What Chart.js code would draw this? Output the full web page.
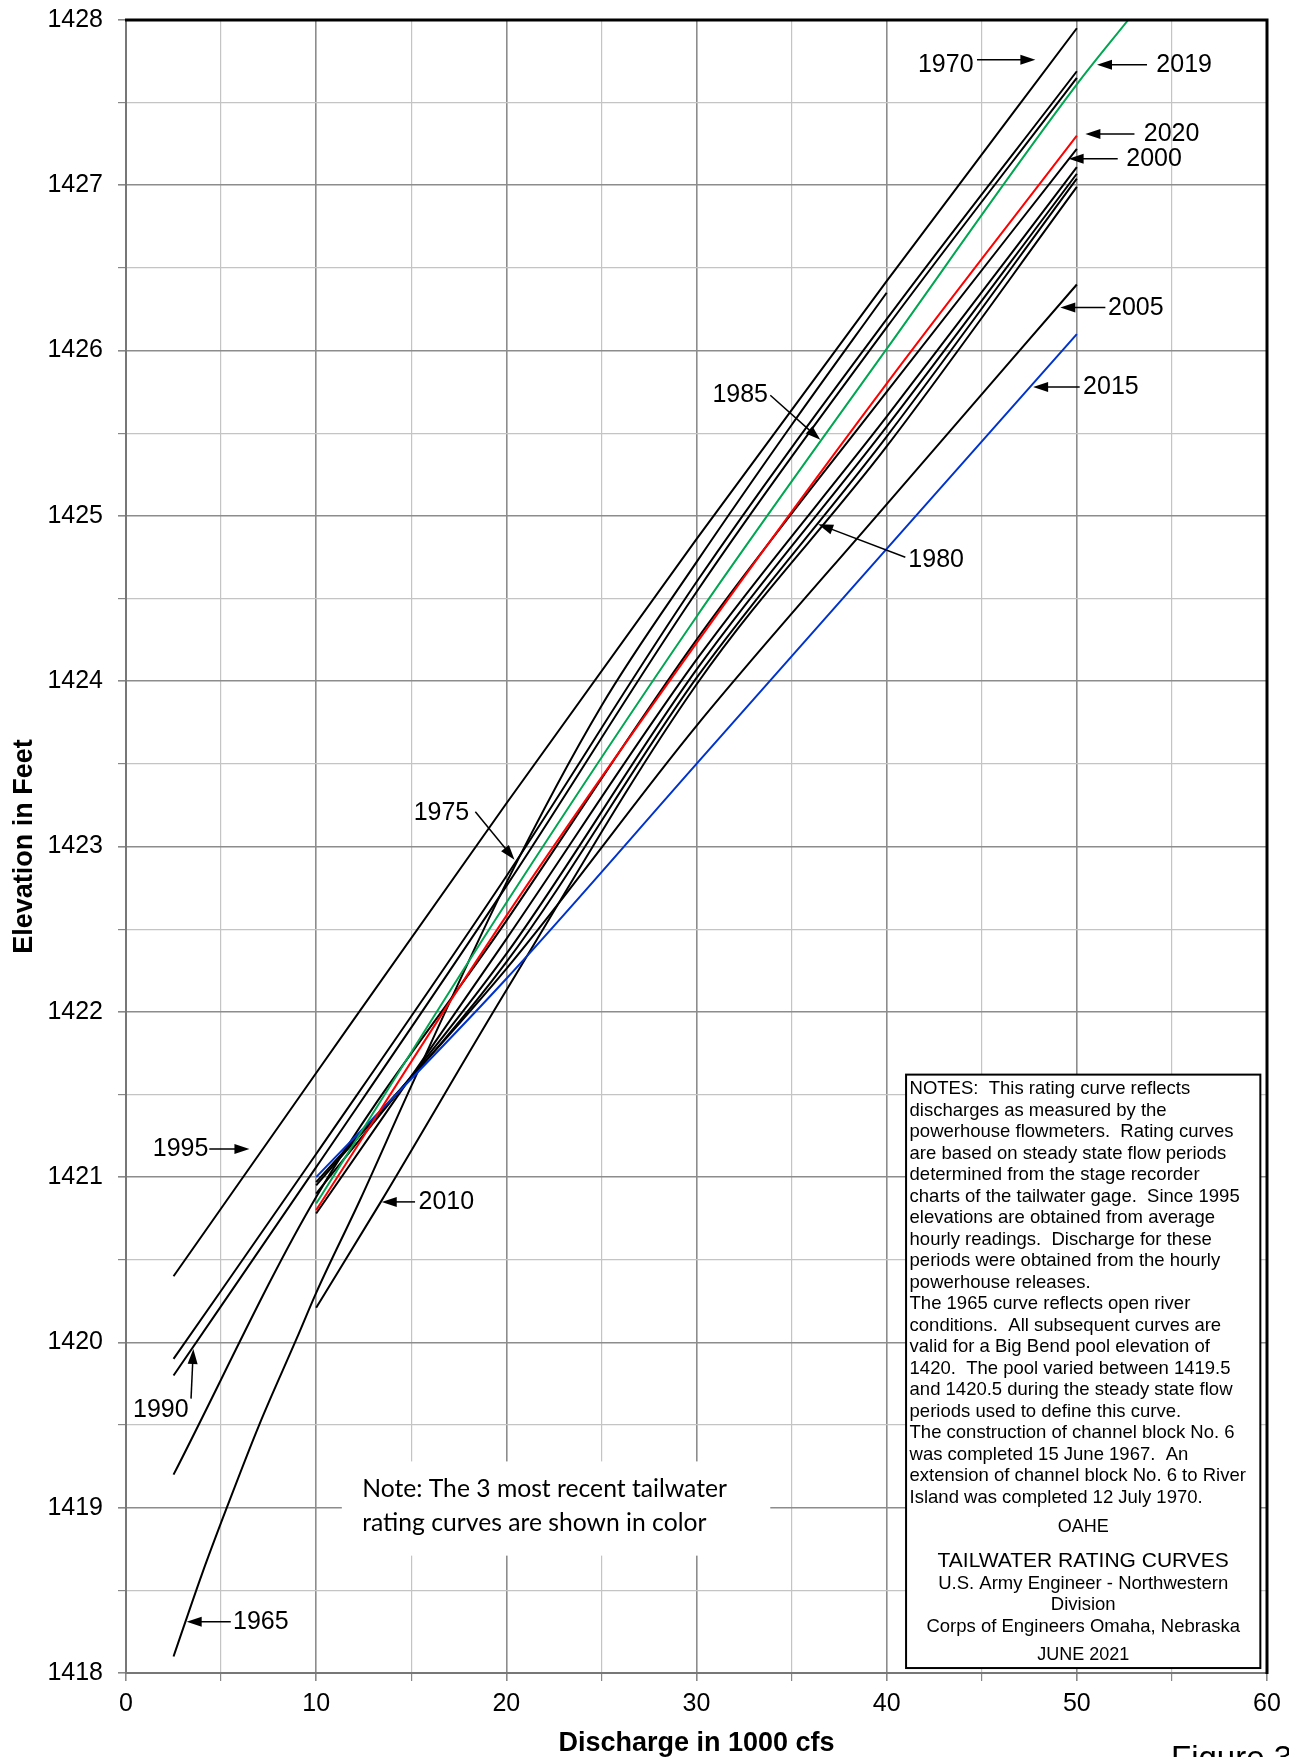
<!DOCTYPE html>
<html>
<head>
<meta charset="utf-8">
<script src="https://cdn.jsdelivr.net/npm/chart.js@4.4.1/dist/chart.umd.min.js"></script>
<style>
  html, body { margin: 0; padding: 0; background: #fff; }
  #wrap { position: relative; width: 1289px; height: 1757px; }
</style>
</head>
<body>
<div id="wrap"><canvas id="ratingChart"></canvas></div>
<script>
// --- OAHE TAILWATER RATING CURVES ---
// discharge (1000 cfs) and elevation (ft) for each curve
const xTickLabels = [0, 10, 20, 30, 40, 50, 60];
const yTickLabels = [1418, 1419, 1420, 1421, 1422, 1423, 1424, 1425, 1426, 1427, 1428];

const q1965 = [2.5, 4, 5.3, 7, 9, 10, 12.3, 15, 20, 25, 30, 35, 40];
const el1965 = [1418.1, 1418.6, 1419.0, 1419.5, 1420.03, 1420.3, 1420.86, 1421.55, 1422.78, 1423.85, 1424.72, 1425.55, 1426.35];

const q1995 = [2.5, 10, 20, 30, 40, 50];
const el1995 = [1420.4, 1421.63, 1423.26, 1424.86, 1426.42, 1427.95];

const q1990 = [2.5, 10, 20, 30, 40, 50];
const el1990 = [1419.9, 1421.14, 1422.82, 1424.6, 1426.19, 1427.69];

const q1985 = [2.5, 10, 20, 30, 40, 50];
const el1985 = [1419.8, 1421.06, 1422.76, 1424.54, 1426.14, 1427.65];

const q2000 = [2.5, 10, 20, 30, 40, 50];
const el2000 = [1419.2, 1420.88, 1422.55, 1424.25, 1425.75, 1427.22];

const q1980 = [10, 20, 30, 40, 50];
const el1980 = [1420.78, 1422.44, 1424.13, 1425.6, 1427.11];

const q1975 = [10, 20, 30, 40, 50];
const el1975 = [1420.9, 1422.35, 1424.07, 1425.54, 1427.07];

const q1970 = [10, 20, 30, 40, 50];
const el1970 = [1420.95, 1422.3, 1424.02, 1425.48, 1427.04];

const q2005 = [10, 20, 30, 40, 50];
const el2005 = [1420.97, 1422.26, 1423.73, 1425.07, 1426.4];

const q2010 = [10, 13.4, 20, 30, 40, 50];
const el2010 = [1420.21, 1420.85, 1422.13, 1423.98, 1425.42, 1426.99];

const q2015 = [10, 20, 30, 40, 50];
const el2015 = [1421.0, 1422.2, 1423.5, 1424.8, 1426.1];

const q2019 = [10, 20, 30, 40, 50, 52.7];
const el2019 = [1420.84, 1422.66, 1424.39, 1426.01, 1427.61, 1428.0];

const q2020 = [10, 20, 30, 40, 50];
const el2020 = [1420.8, 1422.58, 1424.23, 1425.8, 1427.3];

// colored ones first so they end up drawn on top
const curves = [
    { year: '2020', q: q2020, el: el2020, color: '#ff0000' },
    { year: '2019', q: q2019, el: el2019, color: '#00a651' },
    { year: '2015', q: q2015, el: el2015, color: '#0033cc' },
    { year: '1965', q: q1965, el: el1965, color: '#000' },
    { year: '1970', q: q1970, el: el1970, color: '#000' },
    { year: '1975', q: q1975, el: el1975, color: '#000' },
    { year: '1980', q: q1980, el: el1980, color: '#000' },
    { year: '1985', q: q1985, el: el1985, color: '#000' },
    { year: '1990', q: q1990, el: el1990, color: '#000' },
    { year: '1995', q: q1995, el: el1995, color: '#000' },
    { year: '2000', q: q2000, el: el2000, color: '#000' },
    { year: '2005', q: q2005, el: el2005, color: '#000' },
    { year: '2010', q: q2010, el: el2010, color: '#000' }
];

// callouts: text anchor and arrow in data units
const callouts = [
    { text: '1970', tx: 44.57, ty: 1427.73, align: 'right', a: [44.75, 1427.76, 47.82, 1427.76] },
    { text: '2019', tx: 54.18, ty: 1427.73, align: 'left', a: [53.69, 1427.73, 51.06, 1427.73] },
    { text: '2020', tx: 53.52, ty: 1427.31, align: 'left', a: [53.03, 1427.31, 50.45, 1427.31] },
    { text: '2000', tx: 52.6, ty: 1427.16, align: 'left', a: [52.15, 1427.16, 49.57, 1427.16] },
    { text: '2005', tx: 51.64, ty: 1426.26, align: 'left', a: [51.5, 1426.26, 49.13, 1426.26] },
    { text: '2015', tx: 50.33, ty: 1425.78, align: 'left', a: [50.15, 1425.78, 47.7, 1425.78] },
    { text: '1985', tx: 33.76, ty: 1425.73, align: 'right', a: [33.88, 1425.73, 36.51, 1425.46] },
    { text: '1980', tx: 41.14, ty: 1424.73, align: 'left', a: [40.98, 1424.75, 36.4, 1424.95] },
    { text: '1975', tx: 18.05, ty: 1423.2, align: 'right', a: [18.37, 1423.21, 20.43, 1422.92] },
    { text: '1995', tx: 4.33, ty: 1421.17, align: 'right', a: [4.38, 1421.17, 6.49, 1421.17] },
    { text: '1990', tx: 1.83, ty: 1419.59, align: 'center', a: [3.42, 1419.66, 3.54, 1419.96] },
    { text: '1965', tx: 5.63, ty: 1418.31, align: 'left', a: [5.51, 1418.31, 3.19, 1418.31] },
    { text: '2010', tx: 15.38, ty: 1420.85, align: 'left', a: [15.2, 1420.85, 13.45, 1420.85] }
];

const noteLines = [
    'NOTES:  This rating curve reflects',
    'discharges as measured by the',
    'powerhouse flowmeters.  Rating curves',
    'are based on steady state flow periods',
    'determined from the stage recorder',
    'charts of the tailwater gage.  Since 1995',
    'elevations are obtained from average',
    'hourly readings.  Discharge for these',
    'periods were obtained from the hourly',
    'powerhouse releases.',
    'The 1965 curve reflects open river',
    'conditions.  All subsequent curves are',
    'valid for a Big Bend pool elevation of',
    '1420.  The pool varied between 1419.5',
    'and 1420.5 during the steady state flow',
    'periods used to define this curve.',
    'The construction of channel block No. 6',
    'was completed 15 June 1967.  An',
    'extension of channel block No. 6 to River',
    'Island was completed 12 July 1970.'
];
const colorNote = ['Note: The 3 most recent tailwater', 'rating curves are shown in color'];

const FONT = "'Liberation Sans', Arial, sans-serif";

const datasets = curves.map(c => ({
    label: c.year,
    data: c.q.map((x, i) => ({ x: x, y: c.el[i] })),
    borderColor: c.color,
    borderWidth: 2,
    pointRadius: 0,
    fill: false,
    cubicInterpolationMode: 'monotone'
}));

function drawArrow(ctx, x1, y1, x2, y2) {
    const ang = Math.atan2(y2 - y1, x2 - x1);
    const len = 15, half = 5;
    const cs = Math.cos(ang), sn = Math.sin(ang);
    ctx.beginPath();
    ctx.moveTo(x1, y1);
    ctx.lineTo(x2 - cs * len * 0.7, y2 - sn * len * 0.7);
    ctx.stroke();
    ctx.beginPath();
    ctx.moveTo(x2, y2);
    ctx.lineTo(x2 - cs * len + sn * half, y2 - sn * len - cs * half);
    ctx.lineTo(x2 - cs * len - sn * half, y2 - sn * len + cs * half);
    ctx.closePath();
    ctx.fill();
}

const sheetOverlay = {
    id: 'sheetOverlay',
    afterDraw(chart) {
        const { ctx, chartArea: area, scales: { x, y } } = chart;
        ctx.save();

        // frame: heavy black top and right edges
        ctx.strokeStyle = '#000';
        ctx.lineWidth = 3;
        ctx.beginPath();
        ctx.moveTo(area.left - 1, area.top);
        ctx.lineTo(area.right, area.top);
        ctx.lineTo(area.right, area.bottom + 1);
        ctx.stroke();

        // callout labels with arrows
        ctx.fillStyle = '#000';
        ctx.lineWidth = 1.5;
        ctx.font = '25px ' + FONT;
        ctx.textBaseline = 'middle';
        callouts.forEach(c => {
            ctx.textAlign = c.align;
            ctx.fillText(c.text, x.getPixelForValue(c.tx), y.getPixelForValue(c.ty));
            drawArrow(ctx, x.getPixelForValue(c.a[0]), y.getPixelForValue(c.a[1]),
                x.getPixelForValue(c.a[2]), y.getPixelForValue(c.a[3]));
        });

        // color note, white patch over the grid
        const nl = x.getPixelForValue(11.35), nr = x.getPixelForValue(33.88);
        const nt = y.getPixelForValue(1419.28), nb = y.getPixelForValue(1418.71);
        ctx.fillStyle = '#fff';
        ctx.fillRect(nl, nt, nr - nl, nb - nt);
        ctx.fillStyle = '#000';
        ctx.font = '100px Lato';
        const noteSize = 100 * 365 / ctx.measureText(colorNote[0]).width;
        ctx.font = noteSize.toFixed(1) + 'px Lato';
        ctx.textAlign = 'left';
        ctx.fillText(colorNote[0], x.getPixelForValue(12.42), y.getPixelForValue(1419.11));
        ctx.fillText(colorNote[1], x.getPixelForValue(12.42), y.getPixelForValue(1418.91));

        // notes box
        const bl = x.getPixelForValue(41.02), br = x.getPixelForValue(59.65);
        const bt = y.getPixelForValue(1421.62), bb = y.getPixelForValue(1418.03);
        ctx.fillStyle = '#fff';
        ctx.fillRect(bl, bt, br - bl, bb - bt);
        ctx.strokeStyle = '#000';
        ctx.lineWidth = 2;
        ctx.strokeRect(bl, bt, br - bl, bb - bt);
        ctx.fillStyle = '#000';
        ctx.font = '18.5px ' + FONT;
        ctx.textAlign = 'left';
        noteLines.forEach((line, i) => ctx.fillText(line, bl + 3.5, bt + 14.6 + 21.5 * i));
        const mid = (bl + br) / 2;
        ctx.textAlign = 'center';
        ctx.font = '18px ' + FONT;
        ctx.fillText('OAHE', mid, bt + 452.9);
        ctx.font = '21px ' + FONT;
        ctx.fillText('TAILWATER RATING CURVES', mid, bt + 486.5);
        ctx.font = '18.5px ' + FONT;
        ctx.fillText('U.S. Army Engineer - Northwestern', mid, bt + 508.9);
        ctx.fillText('Division', mid, bt + 530.2);
        ctx.fillText('Corps of Engineers Omaha, Nebraska', mid, bt + 552.6);
        ctx.font = '18px ' + FONT;
        ctx.fillText('JUNE 2021', mid, bt + 580.6);

        // figure number, cut off by the page edge
        ctx.font = '33px ' + FONT;
        ctx.textAlign = 'left';
        ctx.textBaseline = 'alphabetic';
        ctx.fillText('Figure 3', 1171, 1769);
        ctx.restore();
    }
};

const isMajorX = v => v % 10 === 0;
const isMajorY = v => Number.isInteger(v);

const ctx = document.getElementById('ratingChart').getContext('2d');
new Chart(ctx, {
    type: 'line',
    data: { datasets: datasets },
    options: {
        responsive: true,
        maintainAspectRatio: false,
        animation: false,
        layout: { padding: { top: 20, right: 22, left: 0, bottom: 0 } },
        plugins: { legend: { display: false }, tooltip: { enabled: false } },
        scales: {
            x: {
                type: 'linear',
                min: xTickLabels[0],
                max: xTickLabels[xTickLabels.length - 1],
                afterFit: s => { s.height = 84; s.paddingLeft = 0; s.paddingRight = 0; },
                border: { color: '#777', width: 2 },
                grid: {
                    color: c => isMajorX(c.tick.value) ? '#8c8c8c' : '#c4c4c4',
                    lineWidth: c => isMajorX(c.tick.value) ? 1.6 : 1.2,
                    tickLength: 8,
                    tickColor: '#888'
                },
                ticks: {
                    stepSize: 5,
                    autoSkip: false,
                    maxRotation: 0,
                    padding: 8,
                    color: '#000',
                    font: { family: FONT, size: 25 },
                    callback: v => xTickLabels.includes(v) ? String(v) : ''
                },
                title: {
                    display: true,
                    text: 'Discharge in 1000 cfs',
                    color: '#000',
                    font: { family: FONT, size: 27, weight: 'bold' },
                    padding: { top: 0, bottom: -3 }
                }
            },
            y: {
                type: 'linear',
                min: yTickLabels[0],
                max: yTickLabels[yTickLabels.length - 1],
                // keep the plot edges where the sheet has them
                afterFit: s => { s.width = 126; s.paddingTop = 0; s.paddingBottom = 0; },
                border: { color: '#777', width: 2 },
                grid: {
                    color: c => isMajorY(c.tick.value) ? '#8c8c8c' : '#c4c4c4',
                    lineWidth: c => isMajorY(c.tick.value) ? 1.6 : 1.2,
                    tickLength: 8,
                    tickColor: '#888'
                },
                ticks: {
                    stepSize: 0.5,
                    autoSkip: false,
                    padding: 15,
                    color: '#000',
                    font: { family: FONT, size: 25 },
                    callback: v => yTickLabels.includes(v) ? String(v) : ''
                },
                title: {
                    display: true,
                    text: 'Elevation in Feet',
                    color: '#000',
                    font: { family: FONT, size: 27, weight: 'bold' },
                    padding: { top: 8, bottom: 0 }
                }
            }
        }
    },
    plugins: [sheetOverlay]
});
</script>
</body>
</html>
